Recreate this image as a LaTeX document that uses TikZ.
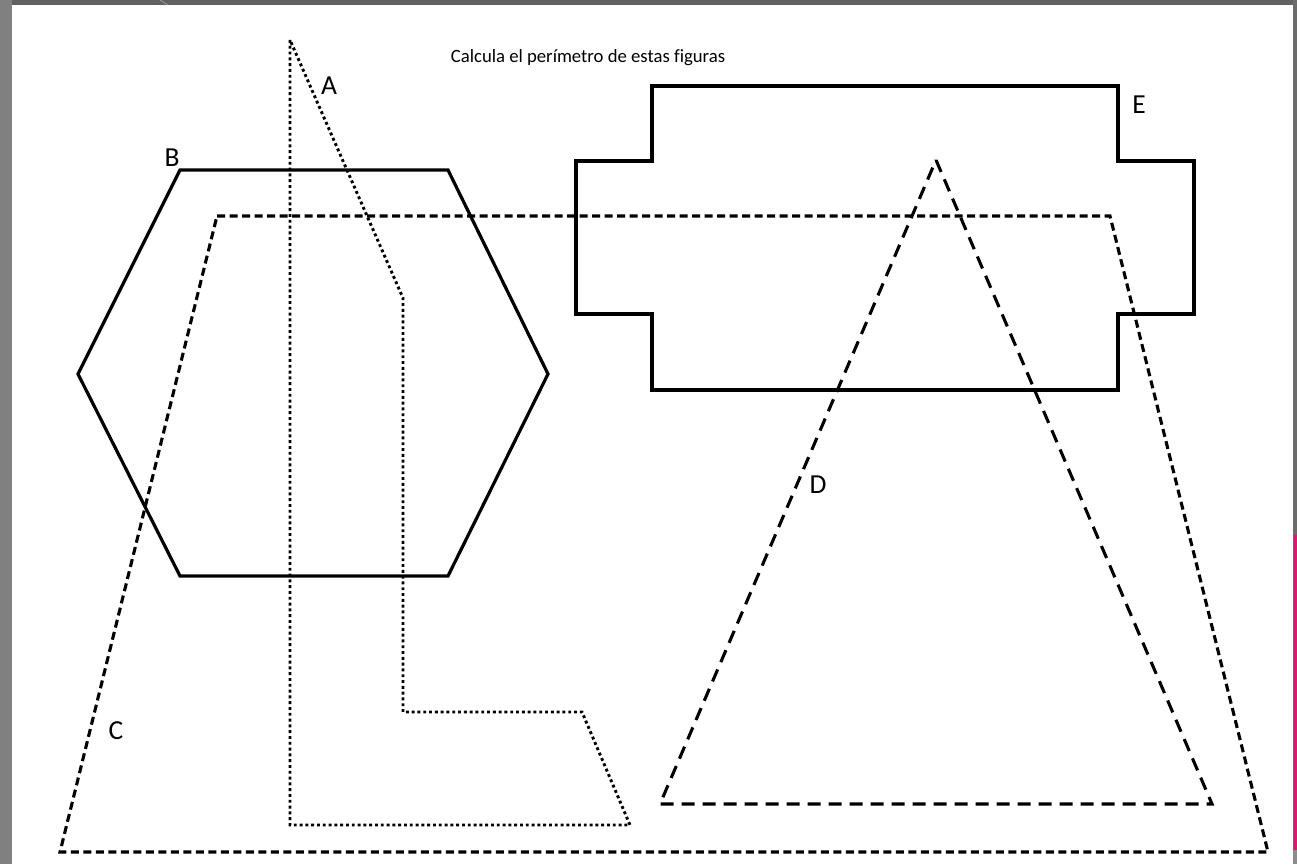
\documentclass[tikz,border=0pt]{standalone}
\usepackage{fontspec}
\setmainfont[Ligatures=NoCommon]{Carlito}
\begin{document}
\begin{tikzpicture}[x=1pt,y=-1pt,
  solidline/.style={line width=3.2pt, line join=miter},
  dottedline/.style={line width=2.9pt, dash pattern=on 2.9pt off 2.9pt},
  shortdash/.style={line width=3.1pt, dash pattern=on 8pt off 4.5pt},
  longdash/.style={line width=3.1pt, dash pattern=on 13pt off 8pt},
  lbl/.style={font=\fontsize{27.5}{30}\selectfont, inner sep=0pt}]
% frame
\useasboundingbox (0,0) rectangle (1297,864);
\fill[white] (0,0) rectangle (1297,864);
\fill[black!62] (0,0) rectangle (1297,5);
\fill[black!50] (0,0) rectangle (12,864);
\fill[black!58] (1293,0) rectangle (1297,864);
\fill[black!45] (1293,864) rectangle (1297,850);
\fill[magenta!75!red!90!black] (1294,535) rectangle (1297,850);
\draw[black!40, line width=0.8pt] (160,0) -- (168,5);
% title
\node[font=\fontsize{18.7}{21}\selectfont, inner sep=0pt] (title) at (588,58) {Calcula el perímetro de estas figuras};
% E
\draw[solidline] (652,86) -- (1118,86) -- (1118,161) -- (1194,161) -- (1194,314) -- (1118,314) -- (1118,390) -- (652,390) -- (652,314) -- (576,314) -- (576,161) -- (652,161) -- cycle;
% B hexagon
\draw[solidline] (180,170) -- (448,170) -- (548,374) -- (448,576) -- (180,576) -- (78,374) -- cycle;
% C trapezoid
\draw[shortdash] (217,216) -- (1110,216) -- (1268,852) -- (60,852) -- cycle;
% D triangle
\draw[longdash] (936,160) -- (1212,804) -- (660,804) -- cycle;
% A
\draw[dottedline] (290,40) -- (290,825) -- (630,825) -- (582,712) -- (403,712) -- (403,298) -- cycle;
% labels
\node[lbl] (la) at (329,86) {A};
\node[lbl] (lb) at (172,158) {B};
\node[lbl] (lc) at (116,731) {C};
\node[lbl] (ld) at (818,485) {D};
\node[lbl] (le) at (1139,105) {E};
\end{tikzpicture}
\end{document}
